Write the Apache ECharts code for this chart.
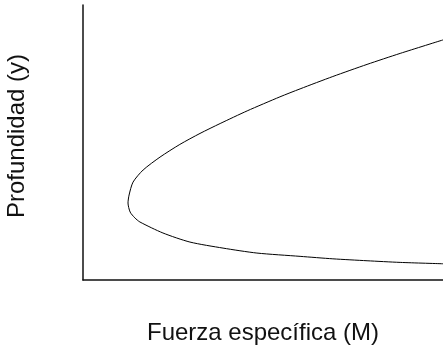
<!DOCTYPE html>
<html>
<head>
<meta charset="utf-8">
<script src="https://cdn.jsdelivr.net/npm/echarts@6/dist/echarts.min.js"></script>
<style>
  html, body { margin: 0; padding: 0; background: #fff; }
  #chart { width: 443px; height: 354px; }
</style>
</head>
<body>
<div id="chart"></div>
<script>
// Specific-force curve: depth (y) against specific force (M), traced from the
// upper branch (large depth) through the minimum to the lower branch.
const fuerzaM = [10.00, 8.81, 7.89, 6.94, 6.03, 5.47, 4.56, 3.81, 3.25, 2.69, 2.14, 1.67, 1.39, 1.28, 1.25,
                 1.31, 1.44, 1.58, 2.22, 2.97, 3.89, 4.83, 6.03, 6.94, 7.89, 8.81, 10.00];
const profundidadY = [8.73, 8.24, 7.84, 7.40, 6.95, 6.66, 6.15, 5.69, 5.33, 4.93, 4.47, 4.00, 3.56, 3.09, 2.80,
                      2.47, 2.26, 2.11, 1.71, 1.38, 1.16, 0.98, 0.86, 0.77, 0.70, 0.64, 0.59];
const xTitle = 'Fuerza específica (M)';
const yTitle = 'Profundidad (y)';

const curve = fuerzaM.map((m, i) => [m, profundidadY[i]]);

const chart = echarts.init(document.getElementById('chart'), null, { renderer: 'canvas' });
const font = '"Liberation Sans", Arial, Helvetica, sans-serif';

chart.setOption({
  animation: false,
  backgroundColor: '#fff',
  grid: { left: 83, top: 5, right: 0, bottom: 74 },
  xAxis: {
    type: 'value', min: 0, max: 10,
    axisLine: { show: true, onZero: false, lineStyle: { color: '#111', width: 1.5 } },
    axisTick: { show: false }, axisLabel: { show: false }, splitLine: { show: false }
  },
  yAxis: {
    type: 'value', min: 0, max: 10,
    axisLine: { show: true, onZero: false, lineStyle: { color: '#111', width: 1.5 } },
    axisTick: { show: false }, axisLabel: { show: false }, splitLine: { show: false }
  },
  series: [{
    type: 'line',
    data: curve,
    smooth: 0.25,
    showSymbol: false,
    clip: true,
    lineStyle: { color: '#000', width: 1 }
  }],
  graphic: [
    {
      type: 'text', x: 263, y: 333,
      style: { text: xTitle, font: '24px ' + font, fill: '#111', align: 'center', verticalAlign: 'middle' }
    },
    {
      type: 'text', x: 17, y: 136, rotation: Math.PI / 2,
      style: { text: yTitle, font: '24px ' + font, fill: '#111', align: 'center', verticalAlign: 'middle' }
    }
  ]
});
</script>
</body>
</html>
